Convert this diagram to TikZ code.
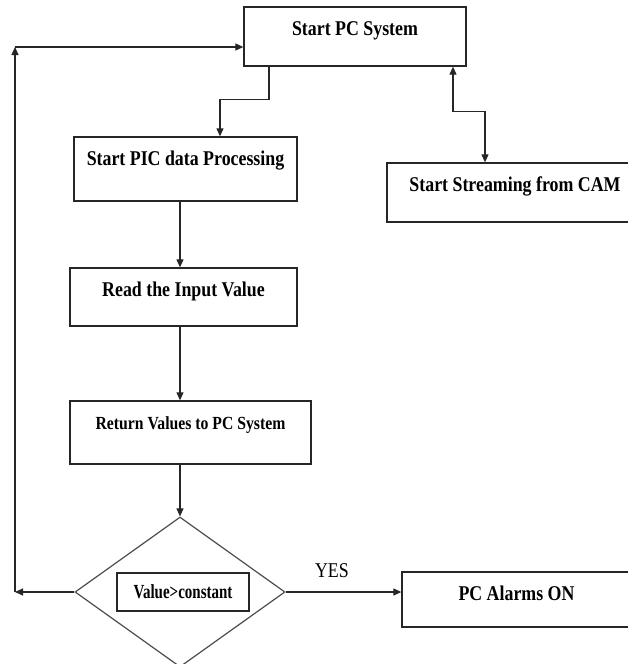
\documentclass[tikz,border=0pt]{standalone}
\usepackage{fontspec}
\setmainfont{Liberation Serif}[FakeStretch=0.85]
\newfontfamily\valfont{Liberation Serif}[FakeStretch=0.75]
\usetikzlibrary{arrows.meta,shapes.geometric}
\begin{document}
\begin{tikzpicture}[x=1pt,y=-1pt,
    stepbox/.style={draw=black!85,line width=1.3pt,inner xsep=0pt,inner ysep=0pt,text height=28pt,font=\fontsize{21}{25}\selectfont\bfseries},
    flow/.style={draw=black!85,line width=1.1pt,-{Triangle[length=8pt,width=7pt]}},
    bothflow/.style={draw=black!85,line width=1.1pt,{Triangle[length=8pt,width=7pt]}-{Triangle[length=8pt,width=7pt]}}]
    \clip (0,0) rectangle (628,664);
    \node[stepbox,minimum width=222pt,text depth=31pt] (pcsys) at (355,36.5) {Start PC System};
    \node[stepbox,minimum width=223pt,text depth=36pt] (pic) at (185.5,169) {Start PIC data Processing};
    \node[stepbox,minimum width=227pt,text depth=30pt] (read) at (183.5,297) {Read the Input Value};
    \node[stepbox,minimum width=241pt,text depth=35pt,font=\fontsize{18.5}{22}\selectfont\bfseries] (ret) at (190.5,432.5) {Return Values to PC System};
    \node[stepbox,minimum width=256pt,text depth=31pt] (cam) at (515,192.5) {Start Streaming from CAM};
    \node[stepbox,minimum width=229pt,text depth=27pt] (alarm) at (516.5,599.5) {PC Alarms ON};
    \node[draw=black!70,line width=1.2pt,diamond,minimum width=210pt,minimum height=150pt,inner sep=0pt] (dec) at (180,592) {};
    \node[draw=black!85,line width=1.3pt,minimum width=132pt,minimum height=38pt,inner sep=0pt,font=\valfont\fontsize{20}{24}\selectfont\bfseries] (val) at (183,592) {Value>constant};
    \coordinate (spine) at (180,0);
    \coordinate (lpb) at (15,592);
    \coordinate (lpt) at (15,47);
    \draw[flow] ([xshift=-86pt]pcsys.south) -- ++(0,33) -| ([xshift=34.5pt]pic.north);
    \draw[bothflow] ([xshift=98pt]pcsys.south) -- ++(0,45) -| ([xshift=-30pt]cam.north);
    \draw[flow] (pic.south -| spine) -- (read.north -| spine);
    \draw[flow] (read.south -| spine) -- (ret.north -| spine);
    \draw[flow] (ret.south -| spine) -- (dec.north);
    \draw[flow] (dec.east) -- node[pos=0.4,above=14pt,inner sep=0pt,font=\fontsize{21}{25}\selectfont] {YES} (dec.east -| alarm.west);
    \draw[flow] (dec.west) -- (lpb);
    \draw[flow] (lpb) -- (lpt);
    \draw[flow] (lpt) -- (lpt -| pcsys.west);
\end{tikzpicture}
\end{document}
